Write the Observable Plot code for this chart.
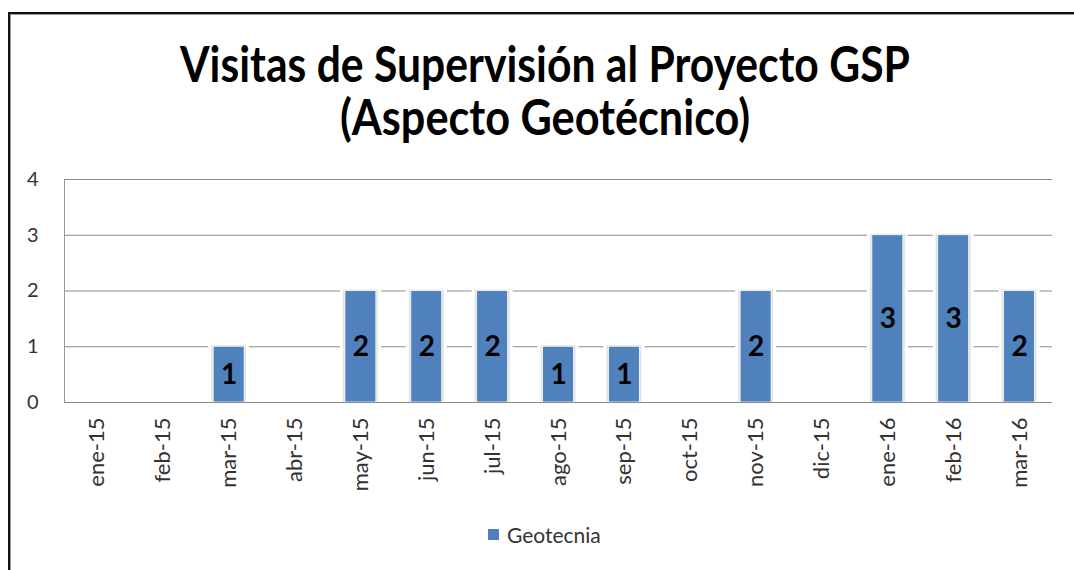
<!DOCTYPE html>
<html><head><meta charset="utf-8">
<script src="https://cdn.jsdelivr.net/npm/d3@7"></script>
<script src="https://cdn.jsdelivr.net/npm/@observablehq/plot@0.6"></script>
<style>
body{margin:0;background:#fff;width:1074px;height:570px;overflow:hidden;position:relative;font-family:Lato,"Open Sans",sans-serif;}
#frame{position:absolute;left:8px;top:12px;width:1100px;height:600px;border-left:2px solid #111;border-top:2px solid #111;box-shadow:inset 1px 1px 0 #9a9a9a;}
.tl{position:absolute;left:0;white-space:nowrap;font-weight:700;font-size:49px;color:#000;transform-origin:0 0;line-height:1}
#chart{position:absolute;left:0;top:160px;}
#legend{position:absolute;left:488px;top:522px;display:flex;align-items:center;font-size:21px;color:#333}
#legend .sw{display:inline-block;width:11px;height:11px;background:#4F81BD;margin-right:8px}
</style></head>
<body>
<div id="frame"></div>
<div class="tl" id="t1" style="top:39px">Visitas de Supervisión al Proyecto GSP</div>
<div class="tl" id="t2" style="top:92px">(Aspecto Geotécnico)</div>
<div id="chart"></div>
<div id="legend"><span class="sw"></span><span id="legText"></span></div>
<script>
const months = ["ene-15","feb-15","mar-15","abr-15","may-15","jun-15","jul-15","ago-15","sep-15","oct-15","nov-15","dic-15","ene-16","feb-16","mar-16"];
const visits = [0,0,1,0,2,2,2,1,1,0,2,0,3,3,2];
const seriesName = "Geotecnia";
const yTicks = [0,1,2,3,4];

const data = months.map((m,i)=>({month:m, value:visits[i]}));
const nonZero = data.filter(d=>d.value>0);

document.getElementById("legText").textContent = seriesName;

function fit(id, target, center){
  const el = document.getElementById(id);
  const w = el.getBoundingClientRect().width;
  const s = target / w;
  el.style.transform = `scaleX(${s})`;
  el.style.left = (center - target/2) + "px";
}
fit("t1", 730, 545);
fit("t2", 410, 545);

const chart = Plot.plot({
  width: 1074,
  height: 340,
  marginTop: 19,
  marginBottom: 98,
  marginLeft: 64,
  marginRight: 22,
  style: {fontFamily: "Lato, 'Open Sans', sans-serif", fontSize: "19px", color: "#333", background: "transparent"},
  x: {domain: months, paddingInner: 0.53, paddingOuter: 0.265, round: false, label: null},
  y: {domain: [0,4], label: null},
  marks: [
    Plot.gridY(yTicks, {stroke: "#8c8c8c", strokeOpacity: 1}),
    Plot.frame({anchor: "left", stroke: "#9a9a9a"}),
    Plot.barY(nonZero, {x: "month", y: "value", fill: "white", insetLeft: -5, insetRight: -5, insetTop: -3}),
    Plot.barY(nonZero, {x: "month", y: "value", fill: "#e2e2e2", insetLeft: -2, insetRight: -2, insetTop: -1}),
    Plot.barY(nonZero, {x: "month", y: "value", fill: "#4F81BD", stroke: "#ffffff", strokeWidth: 0.8}),
    Plot.ruleY([0], {stroke: "#8c8c8c"}),
    Plot.text(nonZero, {x: "month", y: d => d.value/2, text: d => String(d.value), fontWeight: "bold", fontSize: 28, fill: "#000"}),
    Plot.axisY(yTicks, {tickSize: 0, tickPadding: 26, fontSize: 20, fill: "#333", tickFormat: d => String(d)}),
    Plot.axisX({tickSize: 0, tickPadding: 15, tickRotate: -90, fontSize: 22, fill: "#333"})
  ]
});
document.getElementById("chart").appendChild(chart);
</script>
</body></html>
